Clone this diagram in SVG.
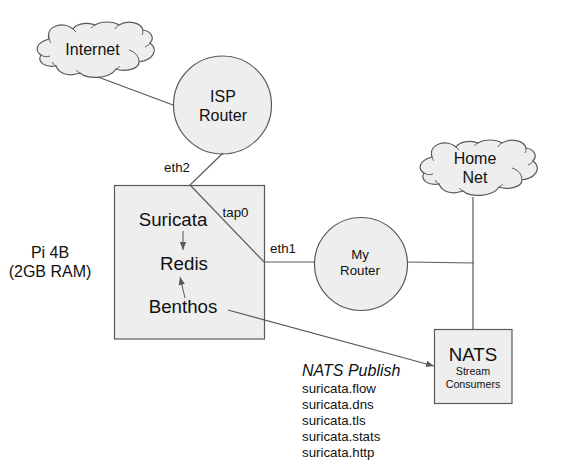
<svg xmlns="http://www.w3.org/2000/svg" width="574" height="475" viewBox="0 0 574 475">
<style>
text{font-family:"Liberation Sans",Arial,sans-serif;fill:#111111;text-anchor:middle}
.shape{fill:#eeeeee;stroke:#595959;stroke-width:1.2}
.curl{fill:none;stroke:#595959;stroke-width:1}
.conn{fill:none;stroke:#595959;stroke-width:1.2}
.thin{stroke-width:1}
.s{font-size:13.3px}
.m{font-size:16px}
.l{font-size:18.7px}
.xs{font-size:10.7px}
.left{text-anchor:start}
</style>
<defs>
<marker id="arrow" markerUnits="userSpaceOnUse" markerWidth="9" markerHeight="8" refX="8" refY="4" orient="auto"><path d="M0,0.8 L8,4 L0,7.2 Z" fill="#595959"/></marker>
<g id="cloud">
<path class="shape" d="M12,17 C8,3 28,-1 36,7 C40,1 52,0 58,3 C64,-1 76,-1 82,3 C90,-2 104,0 106,8 C114,9 118,16 113,21 C122,28 116,38 102,40 C102,48 86,50 79,47 C72,58 50,57 43,51 C32,55 22,52 19,44 C8,46 0,40 4,33 C-2,29 -2,21 12,17 Z"/>
<path class="curl" d="M4,33 C7,35 10,35 13,34 M19,44 C17,43 16,41 15,40 M43,51 C41,50 40,49 39,48 M79,47 C81,46 82,45 83,44 M102,40 C102,34 98,30 92,28 M113,21 C112,23 110,24 108,25 M106,8 C106,10 106,11 105,13 M82,3 C80,4 79,5 78,7 M58,3 C56,4 55,5 54,6 M36,7 C37,8 38,9 39,10 M12,17 C13,19 13,20 14,21"/>
</g>
</defs>
<g id="internet"><use href="#cloud" x="37" y="22"/><text class="m" x="92.5" y="55">Internet</text></g>
<g id="isp-router"><circle class="shape" cx="222.5" cy="105" r="49"/><text class="m" x="223" y="102">ISP</text><text class="m" x="223" y="121">Router</text></g>
<g id="home-net"><use href="#cloud" x="420" y="140"/><text class="m" x="475" y="164">Home</text><text class="m" x="475" y="183">Net</text></g>
<g id="my-router"><circle class="shape" cx="361" cy="264" r="46.5"/><text class="s" x="360" y="259">My</text><text class="s" x="360" y="275">Router</text></g>
<g id="pi"><rect class="shape" x="114.5" y="185.5" width="150" height="153.5"/></g>
<g id="nats"><rect class="shape" x="434.5" y="329.5" width="77.5" height="74"/><text class="l" x="473" y="361">NATS</text><text class="xs" x="473" y="375">Stream</text><text class="xs" x="473" y="388">Consumers</text></g>
<g id="connectors">
<path class="conn" d="M98,77 L173,105"/>
<path class="conn" d="M223,153 L190,185 L264,262 L315,262"/>
<path class="conn" d="M407,262 L474,263"/>
<path class="conn" d="M473,197 L473,329"/>
<path class="conn" d="M228,310 L434,366" marker-end="url(#arrow)"/>
<path class="conn thin" d="M183,231 L183,250" marker-end="url(#arrow)"/>
<path class="conn thin" d="M185,298 L180,277" marker-end="url(#arrow)"/>
</g>
<g id="services">
<text class="l" x="173" y="226">Suricata</text>
<text class="l" x="184" y="270">Redis</text>
<text class="l" x="183" y="313">Benthos</text>
</g>
<g id="labels">
<text class="s" x="177" y="172">eth2</text>
<text class="s" x="235.5" y="217">tap0</text>
<text class="s" x="283" y="253">eth1</text>
<text class="m" x="50" y="258">Pi 4B</text>
<text class="m" x="50" y="277">(2GB RAM)</text>
<text class="m left" x="302" y="376" font-style="italic">NATS Publish</text>
<text class="s left" x="302" y="393">suricata.flow</text>
<text class="s left" x="302" y="409">suricata.dns</text>
<text class="s left" x="302" y="425">suricata.tls</text>
<text class="s left" x="302" y="441">suricata.stats</text>
<text class="s left" x="302" y="457">suricata.http</text>
</g>
</svg>
